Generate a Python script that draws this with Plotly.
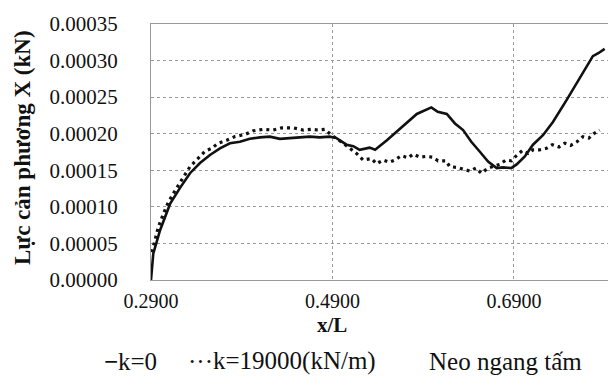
import plotly.graph_objects as go

# ---- data ----
x_k0 = [0.290, 0.2925, 0.300, 0.311, 0.322, 0.333, 0.344, 0.355, 0.366, 0.377,
        0.388, 0.399, 0.410, 0.421, 0.432, 0.443, 0.454, 0.465, 0.476, 0.487,
        0.4945, 0.5055, 0.513, 0.520, 0.531, 0.537, 0.550, 0.566, 0.583, 0.599,
        0.606, 0.616, 0.625, 0.634, 0.643, 0.652, 0.6615, 0.671, 0.678, 0.687,
        0.693, 0.702, 0.711, 0.722, 0.733, 0.748, 0.764, 0.777, 0.783, 0.790]
y_k0 = [0.0, 0.000036, 0.000068, 0.000104, 0.000126, 0.000146, 0.000160, 0.000171, 0.000180, 0.000187,
        0.000189, 0.000193, 0.000195, 0.000196, 0.000193, 0.000194, 0.000196, 0.000196, 0.000195, 0.000196,
        0.000194, 0.000185, 0.000183, 0.000178, 0.000181, 0.000178, 0.000191, 0.000209, 0.000227, 0.000236,
        0.000230, 0.000227, 0.000214, 0.000205, 0.000189, 0.000176, 0.000162, 0.000153, 0.000154, 0.000153,
        0.000158, 0.000169, 0.000185, 0.000198, 0.000216, 0.000246, 0.000279, 0.000306, 0.000310, 0.000316]

x_k19000 = [0.291, 0.298, 0.3035, 0.309, 0.3164, 0.322, 0.333, 0.3385, 0.3495, 0.357,
            0.364, 0.3734, 0.3825, 0.3935, 0.4027, 0.4137, 0.4247, 0.434, 0.4467, 0.4578,
            0.467, 0.4743, 0.4816, 0.489, 0.5018, 0.5165, 0.5238, 0.533, 0.5386, 0.5458,
            0.5524, 0.5587, 0.566, 0.5734, 0.5789, 0.5862, 0.5936, 0.600, 0.6064, 0.615,
            0.6193, 0.6267, 0.634, 0.6413, 0.648, 0.6542, 0.6615, 0.667, 0.6744, 0.681,
            0.6873, 0.6928, 0.6994, 0.7056, 0.711, 0.7185, 0.7258, 0.7324, 0.7397, 0.746,
            0.7526, 0.7595, 0.7661, 0.7727, 0.7779, 0.7845]
y_k19000 = [0.000038, 0.000072, 0.000090, 0.000106, 0.000122, 0.000133, 0.000155, 0.000162, 0.000176, 0.000180,
            0.000187, 0.000191, 0.000196, 0.000199, 0.000204, 0.000206, 0.000205, 0.000208, 0.000208, 0.000205,
            0.000206, 0.000205, 0.000206, 0.000198, 0.000187, 0.000173, 0.000164, 0.000166, 0.000159, 0.000164,
            0.000161, 0.000164, 0.000170, 0.000167, 0.000172, 0.000168, 0.000169, 0.000168, 0.000163, 0.000163,
            0.000155, 0.000154, 0.000152, 0.000149, 0.000153, 0.000146, 0.000153, 0.000155, 0.000158, 0.000164,
            0.000163, 0.000170, 0.000177, 0.000173, 0.000178, 0.000178, 0.000180, 0.000185, 0.000182, 0.000187,
            0.000184, 0.000189, 0.000196, 0.000194, 0.000200, 0.000205]

x_ticks = [0.29, 0.49, 0.69]
x_tick_labels = ["0.2900", "0.4900", "0.6900"]
y_ticks = [0, 0.00005, 0.0001, 0.00015, 0.0002, 0.00025, 0.0003, 0.00035]
y_tick_labels = ["0.00000", "0.00005", "0.00010", "0.00015", "0.00020", "0.00025", "0.00030", "0.00035"]

series_names = ["k=0", "k=19000(kN/m)"]
legend_note = "Neo ngang tấm"
x_title = "x/L"
y_title = "Lực cản phương X (kN)"

FONT = "Liberation Serif"
INK = "#111111"
GRID = "#9a9a9a"

# page body has an 8px margin: figure is drawn 8px right/down
OFF = 8
PL, PT, PB = 151, 21, 280  # plot-area edges in window pixels

fig = go.Figure()
fig.add_trace(go.Scatter(x=x_k0, y=y_k0, mode="lines", name=series_names[0],
                         line=dict(color=INK, width=2.6), showlegend=False))
fig.add_trace(go.Scatter(x=x_k19000, y=y_k19000, mode="lines", name=series_names[1],
                         line=dict(color=INK, width=3.2, dash="3px,4px"), showlegend=False))

fig.update_layout(
    width=616 - OFF, height=390 - OFF,
    margin=dict(l=PL - OFF, r=4, t=PT - OFF, b=390 - PB),
    paper_bgcolor="white", plot_bgcolor="white",
    font=dict(family=FONT, color=INK, size=21),
)
fig.update_xaxes(
    range=[0.29, 0.797], tickvals=x_ticks, ticktext=x_tick_labels,
    showgrid=True, gridcolor=GRID, griddash="dot", gridwidth=1,
    showline=True, linecolor=GRID, linewidth=1, mirror=True,
    ticks="", ticklabelstandoff=3, zeroline=False,
    tickfont=dict(family=FONT, size=20, color=INK),
)
fig.update_yaxes(
    range=[0, 0.00035], tickvals=y_ticks, ticktext=y_tick_labels,
    showgrid=True, gridcolor=GRID, griddash="dot", gridwidth=1,
    showline=True, linecolor=GRID, linewidth=1, mirror=True,
    ticks="", ticklabelstandoff=28, zeroline=False,
    tickfont=dict(family=FONT, size=21, color=INK),
)


def note(text, cx, cy, size, xanchor="center", angle=0):
    fig.add_annotation(text=text, xref="paper", yref="paper", x=0, y=0,
                       xanchor=xanchor, yanchor="middle",
                       xshift=cx - PL, yshift=PB - cy, textangle=angle,
                       showarrow=False, font=dict(family=FONT, size=size, color=INK))


# axis titles
note("<b>%s</b>" % y_title, 22, 148, 23, angle=-90)
note("<b>%s</b>" % x_title, 332, 325, 21)

# legend row
note("<b>−</b>", 102, 361, 25, xanchor="left")
note(series_names[0], 116, 361, 25, xanchor="left")
note("···", 186, 361, 25, xanchor="left")
note(series_names[1], 211, 361, 25, xanchor="left")
note(legend_note, 427, 361, 25, xanchor="left")

fig.write_html("out.html")
